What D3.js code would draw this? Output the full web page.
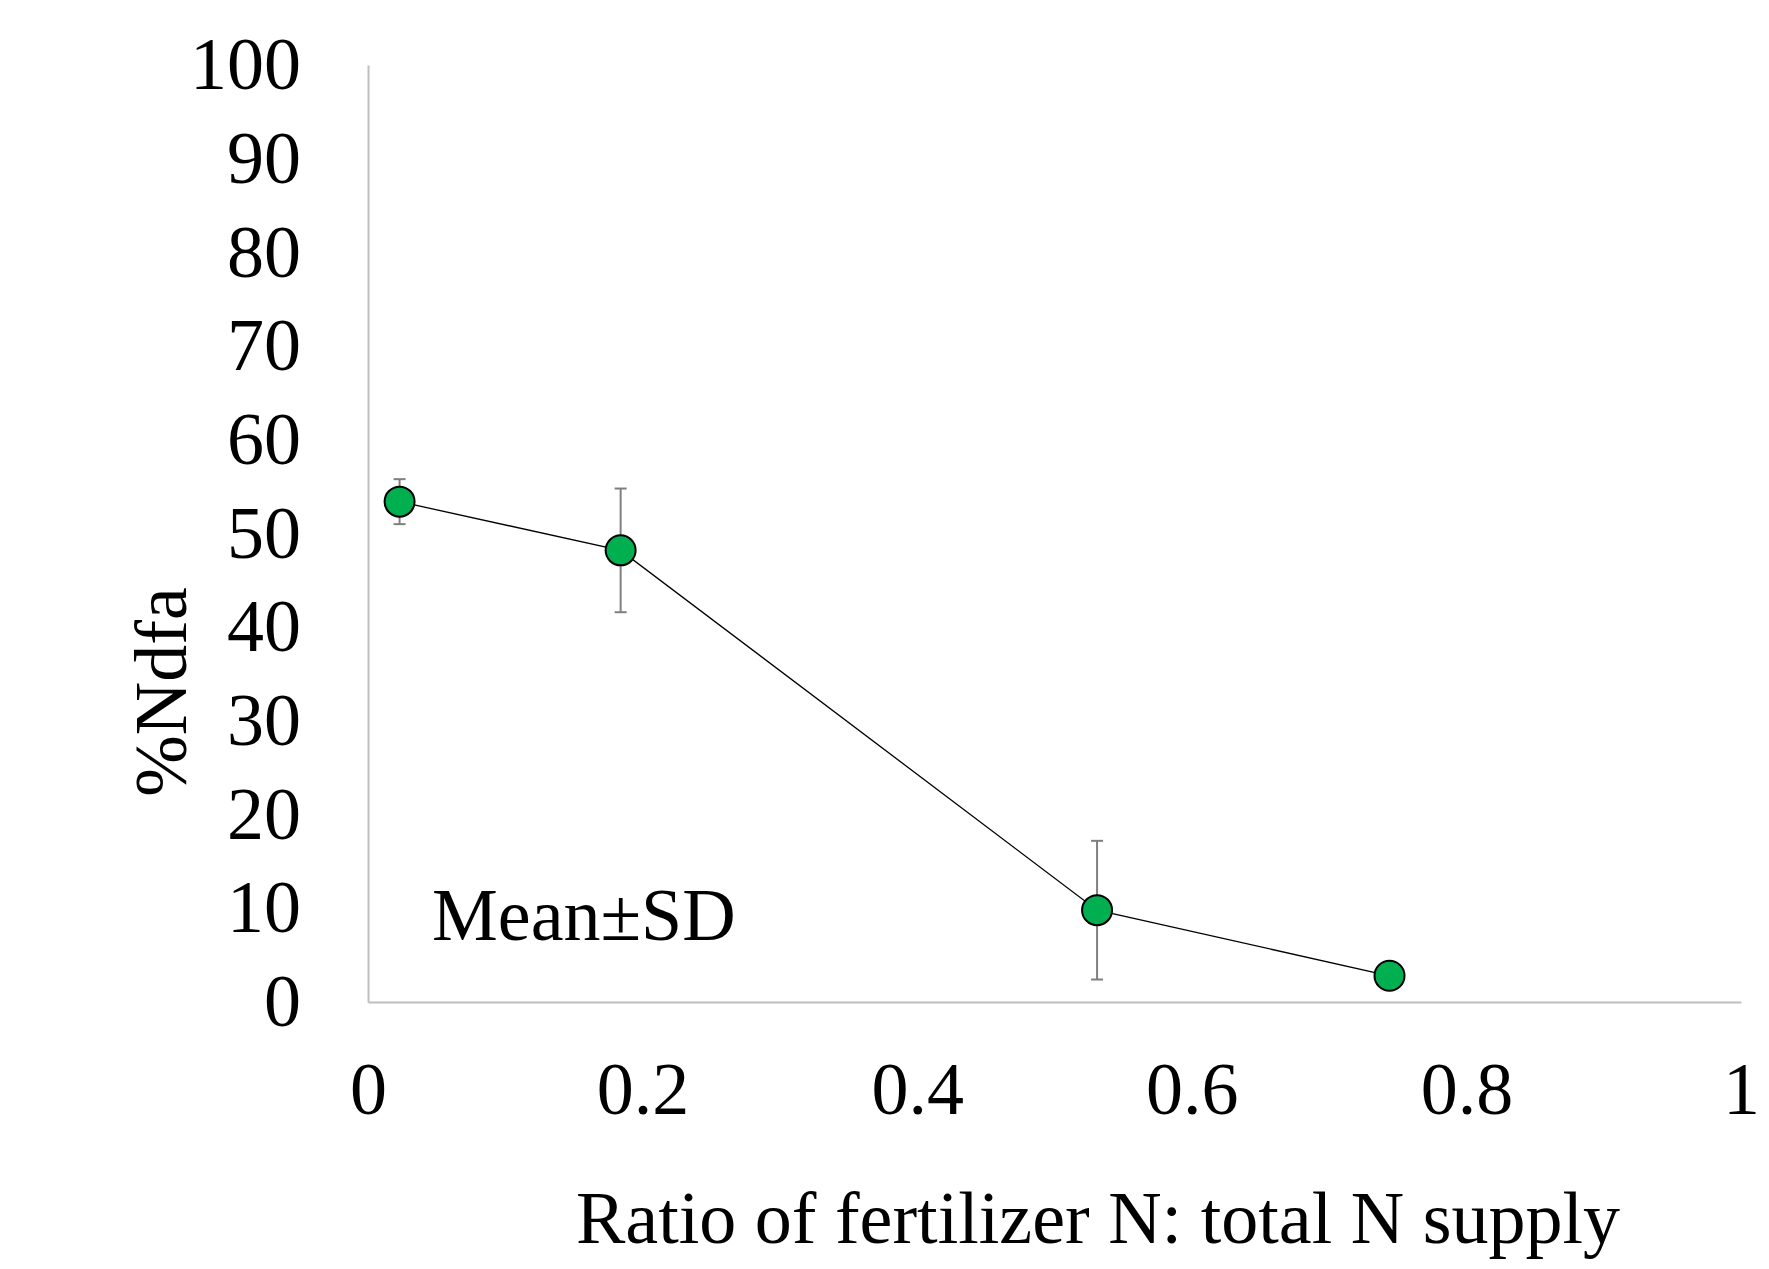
<!DOCTYPE html>
<html>
<head>
<meta charset="utf-8">
<script src="https://cdn.jsdelivr.net/npm/d3@7"></script>
<style>
  body { margin: 0; background: #fff; }
  text { font-family: "Liberation Serif", "Times New Roman", serif; fill: #000; }
</style>
</head>
<body>
<svg id="chart"></svg>
<script>
const w = 1769;
const h = 1269;

// data
const ratio = [0.023, 0.184, 0.531, 0.744];
const ndfa = [53.4, 48.2, 9.8, 2.8];
const sd = [2.4, 6.6, 7.4, 1.2];
const xTicks = [0, 0.2, 0.4, 0.6, 0.8, 1];
const yTicks = [0, 10, 20, 30, 40, 50, 60, 70, 80, 90, 100];

const points = ratio.map((r, i) => ({ x: r, y: ndfa[i], sd: sd[i] }));

const svg = d3.select("#chart")
  .attr("width", w)
  .attr("height", h);

const xScale = d3.scaleLinear().domain([0, 1]).range([368, 1741]);
const yScale = d3.scaleLinear().domain([0, 100]).range([1002, 65]);

const xAxis = d3.axisBottom(xScale)
  .tickValues(xTicks)
  .tickSize(0)
  .tickFormat(d => d3.format("")(d));

const yAxis = d3.axisLeft(yScale)
  .tickValues(yTicks)
  .tickSize(0);

const gx = svg.append("g")
  .attr("transform", `translate(0, ${yScale(0)})`)
  .call(xAxis);
gx.select(".domain").attr("stroke", "#bfbfbf").attr("stroke-width", 2);
gx.selectAll("text")
  .attr("y", 112)
  .attr("dy", 0)
  .style("font-size", "74px")
  .style("font-family", "'Liberation Serif', serif")
  .attr("fill", "#000");

const gy = svg.append("g")
  .attr("transform", `translate(${xScale(0)}, 0)`)
  .call(yAxis);
gy.select(".domain").attr("stroke", "#bfbfbf").attr("stroke-width", 2);
gy.selectAll("text")
  .attr("x", -67)
  .style("font-size", "74px")
  .style("font-family", "'Liberation Serif', serif")
  .attr("fill", "#000");

// connecting line
const line = d3.line()
  .x(d => xScale(d.x))
  .y(d => yScale(d.y));

svg.append("path")
  .datum(points)
  .attr("d", line)
  .attr("fill", "none")
  .attr("stroke", "#000")
  .attr("stroke-width", 1.3);

// error bars
const err = svg.append("g")
  .attr("stroke", "#7f7f7f")
  .attr("stroke-width", 2);

err.selectAll("line.v")
  .data(points)
  .enter()
  .append("line")
  .attr("class", "v")
  .attr("x1", d => xScale(d.x))
  .attr("x2", d => xScale(d.x))
  .attr("y1", d => yScale(d.y + d.sd))
  .attr("y2", d => yScale(d.y - d.sd));

err.selectAll("line.top")
  .data(points)
  .enter()
  .append("line")
  .attr("class", "top")
  .attr("x1", d => xScale(d.x) - 6)
  .attr("x2", d => xScale(d.x) + 6)
  .attr("y1", d => yScale(d.y + d.sd))
  .attr("y2", d => yScale(d.y + d.sd));

err.selectAll("line.bot")
  .data(points)
  .enter()
  .append("line")
  .attr("class", "bot")
  .attr("x1", d => xScale(d.x) - 6)
  .attr("x2", d => xScale(d.x) + 6)
  .attr("y1", d => yScale(d.y - d.sd))
  .attr("y2", d => yScale(d.y - d.sd));

// markers
svg.selectAll("circle")
  .data(points)
  .enter()
  .append("circle")
  .attr("cx", d => xScale(d.x))
  .attr("cy", d => yScale(d.y))
  .attr("r", 15)
  .attr("fill", "#00b050")
  .attr("stroke", "#000")
  .attr("stroke-width", 2);

// labels
svg.append("text")
  .attr("x", 1098)
  .attr("y", 1243)
  .attr("text-anchor", "middle")
  .style("font-size", "74px")
  .text("Ratio of fertilizer N: total N supply");

svg.append("text")
  .attr("transform", "translate(186, 692) rotate(-90)")
  .attr("text-anchor", "middle")
  .style("font-size", "74px")
  .text("%Ndfa");

svg.append("text")
  .attr("x", 432)
  .attr("y", 940)
  .style("font-size", "74px")
  .text("Mean±SD");
</script>
</body>
</html>
